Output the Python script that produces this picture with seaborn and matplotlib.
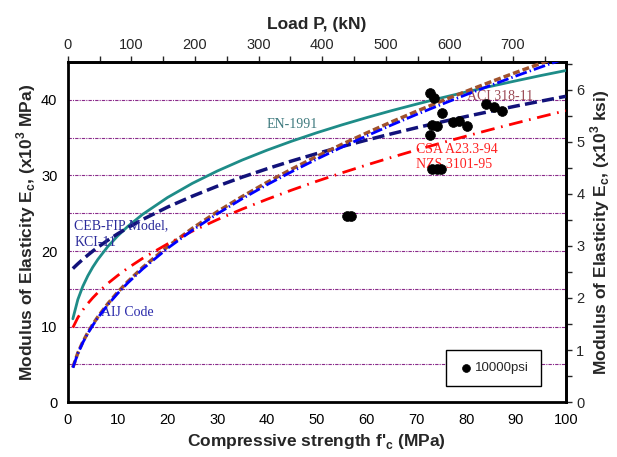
import matplotlib
matplotlib.use("Agg")
import matplotlib.pyplot as plt
import seaborn as sns
import pandas as pd

# ---- data ----
fc = [1, 2, 3, 4, 5, 6, 8, 10, 12, 15, 20, 25, 30, 35, 40, 45, 50, 55, 60,
      65, 70, 75, 80, 85, 90, 95, 100]
en1991 = [11.03, 13.58, 15.33, 16.71, 17.87, 18.87, 20.58, 22.00, 23.24, 24.85,
          27.08, 28.96, 30.59, 32.04, 33.35, 34.55, 35.66, 36.69, 37.66, 38.58,
          39.44, 40.27, 41.05, 41.81, 42.53, 43.23, 43.89]
ceb_kci = [17.68, 18.31, 18.90, 19.46, 19.99, 20.49, 21.42, 22.28, 23.07, 24.17,
           25.81, 27.26, 28.58, 29.78, 30.89, 31.93, 32.90, 33.82, 34.69, 35.52,
           36.32, 37.08, 37.81, 38.51, 39.19, 39.84, 40.48]
aci318 = [4.60, 6.51, 7.97, 9.20, 10.29, 11.27, 13.01, 14.55, 15.93, 17.82,
          20.57, 23.00, 25.20, 27.21, 29.09, 30.86, 32.53, 34.11, 35.63, 37.09,
          38.49, 39.84, 41.14, 42.41, 43.64, 44.84, 46.00]
aij = [4.55, 6.43, 7.88, 9.10, 10.17, 11.15, 12.87, 14.39, 15.76, 17.62,
       20.35, 22.75, 24.92, 26.92, 28.78, 30.52, 32.17, 33.74, 35.24, 36.68,
       38.07, 39.40, 40.70, 41.95, 43.17, 44.35, 45.50]
csa_nzs = [9.86, 11.19, 12.20, 13.05, 13.81, 14.49, 15.70, 16.76, 17.73, 19.03,
           20.94, 22.63, 24.15, 25.55, 26.85, 28.08, 29.24, 30.34, 31.39, 32.40,
           33.37, 34.31, 35.21, 36.09, 36.94, 37.77, 38.58]

test_fc = [72.8, 73.6, 75.2, 73.2, 74.2, 72.7, 77.4, 78.6, 80.1, 83.9, 85.6, 87.1,
           73.2, 74.2, 75.0, 56.0, 56.8]
test_ec = [40.9, 40.3, 38.3, 36.7, 36.6, 35.4, 37.1, 37.2, 36.5, 39.4, 39.1, 38.5,
           30.8, 30.8, 30.8, 24.6, 24.7]

grid_levels = [5, 10, 15, 20, 25, 30, 35, 40]

sns.set_style("white")
plt.rcParams['font.family'] = ['Liberation Sans', 'DejaVu Sans']
plt.rcParams['mathtext.fontset'] = 'custom'
plt.rcParams['mathtext.rm'] = 'Liberation Sans'
plt.rcParams['mathtext.bf'] = 'Liberation Sans:bold'

fig = plt.figure(figsize=(6.17, 4.57), dpi=100)
ax = fig.add_axes([0.110, 0.120, 0.807, 0.744])

for g in grid_levels:
    ax.axhline(g, color='#8a2a8a', lw=0.8, ls=(0, (3, 1, 1, 1)), zorder=1)

curves = pd.DataFrame({'fc': fc, 'en': en1991, 'ceb': ceb_kci, 'aci': aci318,
                       'aij': aij, 'csa': csa_nzs})

sns.lineplot(data=curves, x='fc', y='en', ax=ax, color='#1e8c88', lw=2.0, zorder=3)
sns.lineplot(data=curves, x='fc', y='ceb', ax=ax, color='#12127a', lw=2.5, zorder=3)
ax.lines[-1].set_dashes((3.5, 1.5))
sns.lineplot(data=curves, x='fc', y='aci', ax=ax, color='#a0522d', lw=2.5, zorder=3)
ax.lines[-1].set_dashes((2.0, 0.9))
sns.lineplot(data=curves, x='fc', y='aij', ax=ax, color='#0000ff', lw=2.0, zorder=4)
ax.lines[-1].set_dashes((4.3, 1.1, 0.5, 1.1))
sns.lineplot(data=curves, x='fc', y='csa', ax=ax, color='#ff0000', lw=2.0, zorder=3)
ax.lines[-1].set_dashes((5.0, 2.4, 0.6, 2.4))

pts = pd.DataFrame({'fc': test_fc, 'ec': test_ec})
sns.scatterplot(data=pts, x='fc', y='ec', ax=ax, color='black', s=50,
                edgecolor='black', linewidth=0.5, zorder=5, label='10000psi')

ax.set_xlim(0, 100)
ax.set_ylim(0, 45)
ax.set_xticks(range(0, 101, 10))
ax.set_xticks(range(0, 101, 5), minor=True)
ax.set_yticks(range(0, 41, 10))
ax.set_yticks(range(0, 46, 5), minor=True)
ax.tick_params(which='both', direction='out', length=4, width=1, labelsize=10.5,
               colors='black')
for s in ax.spines.values():
    s.set_linewidth(2)
    s.set_color('black')

ax.set_xlabel("Compressive strength f'$_\\mathbf{c}$ (MPa)", fontsize=12.5,
              fontweight='bold', labelpad=4)
ax.set_ylabel("Modulus of Elasticity E$_\\mathbf{c}$, (x10$^\\mathbf{3}$ MPa)",
              fontsize=12.5, fontweight='bold', labelpad=2)

# secondary axes
sec_y = ax.secondary_yaxis('right', functions=(lambda v: v / 6.895, lambda v: v * 6.895))
sec_y.set_yticks(range(0, 7))
sec_y.set_yticks([i * 0.5 for i in range(0, 14)], minor=True)
sec_y.tick_params(which='both', direction='out', length=4, width=1, labelsize=10.5)
sec_y.spines['right'].set_linewidth(2)
sec_y.set_ylabel("Modulus of Elasticity E$_\\mathbf{c}$, (x10$^\\mathbf{3}$ ksi)",
                 fontsize=12.5, fontweight='bold', labelpad=3)

sec_x = ax.secondary_xaxis('top', functions=(lambda v: v * 7.83, lambda v: v / 7.83))
sec_x.set_xticks(range(0, 701, 100))
sec_x.set_xticks(range(0, 751, 50), minor=True)
sec_x.tick_params(which='both', direction='out', length=4, width=1, labelsize=10.5)
sec_x.spines['top'].set_linewidth(2)
sec_x.set_xlabel("Load P, (kN)", fontsize=12.5, fontweight='bold', labelpad=6)

# curve labels
serif = ['Liberation Serif', 'DejaVu Serif']
ax.text(45, 36.7, 'EN-1991', color='#3f7a7e', fontsize=10, family=serif,
        ha='center', va='center')
ax.text(86.9, 40.5, 'ACI 318-11', color='#9b4a55', fontsize=10, family=serif,
        ha='center', va='center')
ax.text(70, 33.5, 'CSA A23.3-94', color='#ff2020', fontsize=10, family=serif,
        ha='left', va='center')
ax.text(70, 31.5, 'NZS 3101-95', color='#ff2020', fontsize=10, family=serif,
        ha='left', va='center')
ax.text(1.3, 23.4, 'CEB-FIP Model,', color='#2a2a9a', fontsize=10, family=serif,
        ha='left', va='center')
ax.text(1.3, 21.1, 'KCI-11', color='#2a2a9a', fontsize=10, family=serif,
        ha='left', va='center')
ax.text(6.6, 11.9, 'AIJ Code', color='#2a2aaa', fontsize=10, family=serif,
        ha='left', va='center')

leg = ax.legend(loc='lower left', bbox_to_anchor=(0.759, 0.047), frameon=True,
                fancybox=False, edgecolor='black', fontsize=9.5, handletextpad=0.1,
                handlelength=1.2, borderpad=0.9, borderaxespad=0, markerscale=0.8)
leg.get_frame().set_linewidth(1)
leg.get_frame().set_alpha(1)
leg.set_zorder(6)

fig.savefig('out.png', dpi=100)
